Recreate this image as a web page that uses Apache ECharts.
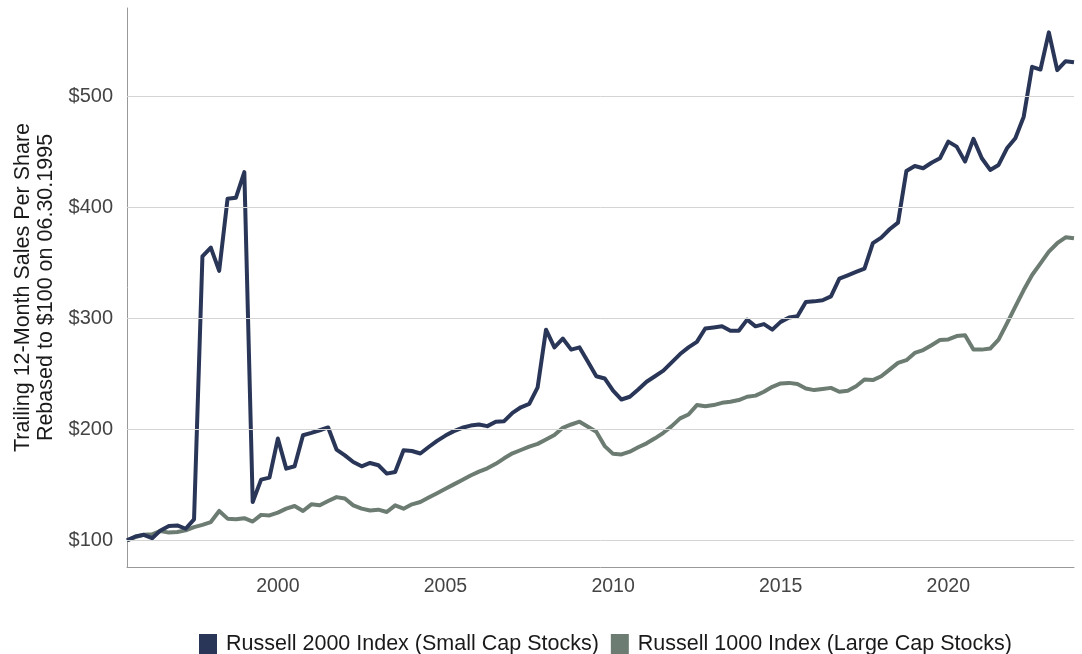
<!DOCTYPE html>
<html>
<head>
<meta charset="utf-8">
<script src="https://cdn.jsdelivr.net/npm/echarts@6/dist/echarts.min.js"></script>
<style>
html,body{margin:0;padding:0;background:#fff;}
#chart{width:1082px;height:654px;}
</style>
</head>
<body>
<div id="chart"></div>
<script>
// Quarter-end dates as decimal years (06.30.1995 .. 09.30.2023)
const startYear = 1995.5;
const quarterCount = 114;
const dates = [];
for (let i = 0; i < quarterCount; i++) dates.push(startYear + i * 0.25);

const russell2000 = [
  100, 103.5, 105, 102, 109, 113, 113.5, 110.5, 119, 356,
  364, 343, 408, 409, 432, 134.6, 154.8, 156.6, 191.8, 164.7,
  166.8, 194.8, 196.9, 199.3, 201.8, 181.9, 176.7, 170.7, 166.8, 169.8,
  167.7, 160.2, 161.7, 181.3, 180.6, 178.3, 184.2, 189.7, 194.5, 198.5,
  201.5, 203.5, 204.5, 203, 207, 207.5, 215, 220, 223, 238,
  290, 274, 282, 272, 274, 261, 248, 246, 235, 227,
  229.5, 236, 243, 248, 253, 260.5, 268, 274, 279, 291,
  292, 293, 289, 289, 299, 293, 295, 290, 297, 301,
  302, 315, 315.5, 316.5, 320, 336, 339, 342, 345, 368,
  373, 380.5, 386.5, 433, 437.5, 435.5, 440.5, 444.5, 459.5, 455,
  441.5, 462, 444.5, 434, 438.5, 453.5, 462.5, 482, 527, 524.5,
  558, 524, 532, 531
];

const russell1000 = [
  100, 103, 105, 105.5, 108.5, 107, 107.5, 109, 112, 114,
  116.5, 126.5, 119.6, 119, 120, 117, 123, 122.5, 125, 128.6,
  131, 126.5, 132.5, 131.6, 135.5, 139, 137.7, 131.6, 128.6, 127,
  127.7, 125.6, 131.6, 128.6, 132.5, 134.6, 138.6, 142.5, 146.5, 150.5,
  154.5, 158.5, 162, 165, 169, 174, 178.5, 181.5, 184.5, 187,
  191, 195, 201.5, 204.5, 207, 202.5, 198, 185, 178, 177.5,
  180, 184, 187.5, 192, 197, 203, 210, 213.5, 222, 221,
  222, 224, 225, 226.5, 229.5, 230.5, 234, 238.5, 241.5, 242,
  241, 237, 235.5, 236.5, 237.5, 234, 235, 239, 245, 244.5,
  248, 254, 260, 262.5, 269, 271.6, 276, 280.6, 281.2, 284.2,
  285, 272, 272, 273, 281, 295.7, 310.7, 325.7, 339.3, 349.8,
  360.3, 367.9, 373.3, 372.4
];

const yTickValues = [100, 200, 300, 400, 500];
const xTickYears = [2000, 2005, 2010, 2015, 2020];
const seriesNames = ['Russell 2000 Index (Small Cap Stocks)', 'Russell 1000 Index (Large Cap Stocks)'];

const FONT = '"Liberation Sans", Arial, Helvetica, sans-serif';
const NAVY = '#2a3658';
const SAGE = '#6c7c72';

const chart = echarts.init(document.getElementById('chart'), null, {renderer: 'canvas'});
chart.setOption({
  animation: false,
  backgroundColor: '#ffffff',
  textStyle: {fontFamily: FONT},
  grid: {left: 127, right: 8, top: 8, bottom: 87, containLabel: false},
  legend: {
    data: seriesNames,
    left: 194,
    top: 628,
    icon: 'rect',
    itemWidth: 18,
    itemHeight: 20,
    itemGap: 12,
    textStyle: {fontSize: 21.5, color: '#1a1a1a', fontFamily: FONT, padding: [0, 0, 0, 4]}
  },
  xAxis: {
    type: 'value',
    min: 1995.5,
    max: 2023.75,
    interval: 0.25,
    axisLine: {show: true, lineStyle: {color: '#999999', width: 1}},
    axisTick: {show: false},
    splitLine: {show: false},
    axisLabel: {
      margin: 10,
      fontSize: 19.5,
      color: '#444444',
      fontFamily: FONT,
      formatter: function (v) {
        const r = Math.round(v * 100) / 100;
        return xTickYears.indexOf(r) >= 0 ? String(r) : '';
      }
    }
  },
  yAxis: {
    type: 'value',
    min: 76,
    max: 580,
    interval: 4,
    name: 'Trailing 12-Month Sales Per Share\nRebased to $100 on 06.30.1995',
    nameLocation: 'middle',
    nameGap: 67,
    nameTextStyle: {fontSize: 21.5, color: '#1a1a1a', fontFamily: FONT, lineHeight: 23},
    axisLine: {show: true, lineStyle: {color: '#999999', width: 1}},
    axisTick: {show: false},
    splitLine: {show: false},
    axisLabel: {
      margin: 14,
      fontSize: 20,
      color: '#444444',
      fontFamily: FONT,
      formatter: function (v) {
        const r = Math.round(v);
        return yTickValues.indexOf(r) >= 0 ? '$' + r : '';
      }
    }
  },
  series: [
    {
      name: 'grid',
      type: 'line',
      data: [],
      silent: true,
      z: 1,
      markLine: {
        silent: true,
        symbol: 'none',
        animation: false,
        label: {show: false},
        lineStyle: {color: '#d4d4d4', width: 1, type: 'solid'},
        data: yTickValues.map(v => ({yAxis: v}))
      }
    },
    {
      name: seriesNames[1],
      type: 'line',
      z: 3,
      data: dates.map((d, i) => [d, russell1000[i]]),
      showSymbol: false,
      symbol: 'none',
      color: SAGE,
      lineStyle: {color: SAGE, width: 4, join: 'round'}
    },
    {
      name: seriesNames[0],
      type: 'line',
      z: 4,
      data: dates.map((d, i) => [d, russell2000[i]]),
      showSymbol: false,
      symbol: 'none',
      color: NAVY,
      lineStyle: {color: NAVY, width: 4, join: 'round'}
    }
  ]
});
</script>
</body>
</html>
